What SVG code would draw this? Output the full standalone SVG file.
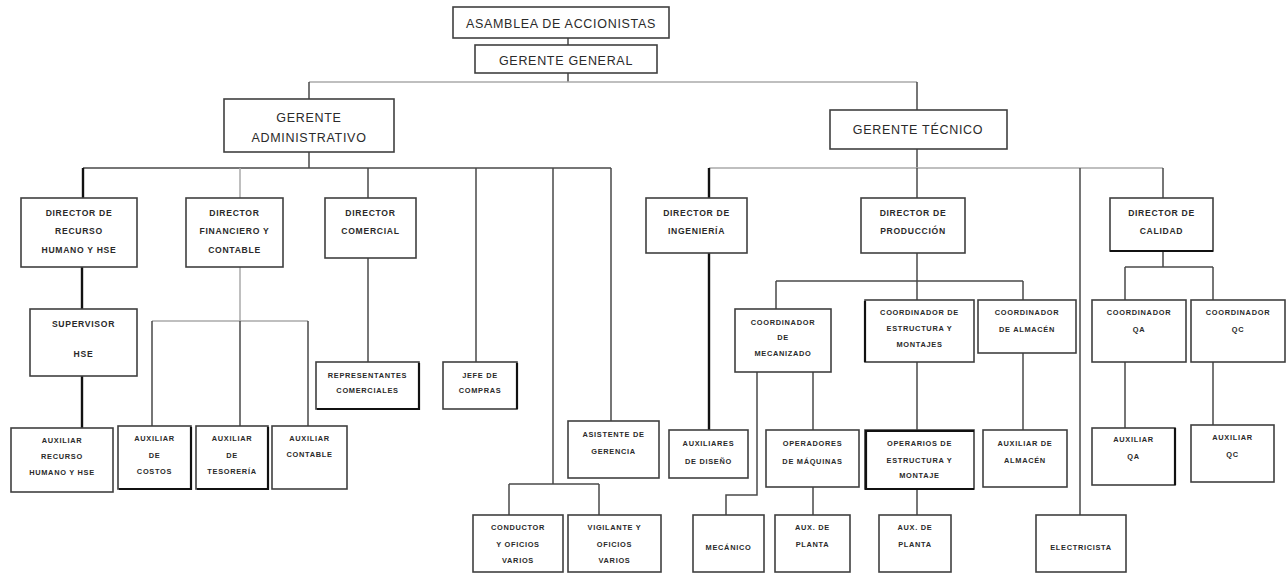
<svg xmlns="http://www.w3.org/2000/svg" width="1287" height="574" viewBox="0 0 1287 574">
<style>
.b{fill:#fff;stroke:#404040;stroke-width:1.6}
.t1{font-family:"Liberation Sans",Arial,sans-serif;font-size:12.5px;fill:#2a2a2a;text-anchor:middle;letter-spacing:0.7px}
.t2{font-family:"Liberation Sans",Arial,sans-serif;font-size:8.6px;font-weight:bold;fill:#2a2a2a;text-anchor:middle;letter-spacing:0.7px}
.t3{font-family:"Liberation Sans",Arial,sans-serif;font-size:7.4px;font-weight:bold;fill:#2a2a2a;text-anchor:middle;letter-spacing:0.7px}
.c{fill:none;stroke:#4a4a4a;stroke-width:1.5}
.k{fill:none;stroke:#111;stroke-width:2.4}
.g{fill:none;stroke:#aaa;stroke-width:1.5}
.e{fill:none;stroke:#111;stroke-width:2.2}
</style>
<g id="connectors">
<path class="c" d="M568 38V45M568 73V82"/>
<path class="g" d="M309 82H917"/>
<path class="c" d="M309 82V99M917 82V110"/>
<path class="c" d="M309 152V168M83 168H611"/>
<path class="k" d="M83 168V198"/>
<path class="g" d="M240 168V198"/>
<path class="c" d="M368 168V198M476 168V362M553 168V484M611 168V421"/>
<path class="k" d="M82 267V309M82 376V428"/>
<path class="g" d="M240 267V321M152 321H308"/>
<path class="c" d="M152 321V426M240 321V426M308 321V426"/>
<path class="c" d="M368 258V362"/>
<path class="c" d="M509 484H599M509 484V515M599 484V515"/>
<path class="c" d="M917 149V168"/>
<path class="g" d="M709 168H1163"/>
<path class="k" d="M709 168V198M709 253V430"/>
<path class="c" d="M917 168V198M1080 168V515M1163 168V198"/>
<path class="c" d="M917 253V281M776 281H1023M776 281V309M917 281V300M1023 281V300"/>
<path class="c" d="M757 372V495H726V515M813 372V430M813 487V515"/>
<path class="c" d="M917 362V430M917 489V515M1023 353V430"/>
<path class="c" d="M1163 251V267M1125 267H1213M1125 267V300M1213 267V300M1125 362V428M1213 362V425"/>
</g>
<g id="asamblea"><rect class="b" x="453" y="7" width="216" height="31"/><text class="t1" x="561" y="27.5" font-size="13">ASAMBLEA DE ACCIONISTAS</text></g>
<g id="gerente-general"><rect class="b" x="475" y="45" width="182" height="28"/><text class="t1" x="566" y="64.5">GERENTE GENERAL</text></g>
<g id="gerente-administrativo"><rect class="b" x="224" y="99" width="170" height="53"/><text class="t1" x="309" y="121.5">GERENTE</text><text class="t1" x="309" y="141.5">ADMINISTRATIVO</text></g>
<g id="gerente-tecnico"><rect class="b" x="830" y="110" width="177" height="39"/><text class="t1" x="918" y="133.5">GERENTE TÉCNICO</text></g>
<g id="dir-rrhh"><rect class="b" x="21" y="198" width="116" height="69"/><text class="t2" x="79" y="216">DIRECTOR DE</text><text class="t2" x="79" y="234">RECURSO</text><text class="t2" x="79" y="253">HUMANO Y HSE</text></g>
<g id="dir-financiero"><rect class="b" x="186" y="198" width="97" height="69"/><text class="t2" x="234.5" y="216">DIRECTOR</text><text class="t2" x="234.5" y="234">FINANCIERO Y</text><text class="t2" x="234.5" y="253">CONTABLE</text></g>
<g id="dir-comercial"><rect class="b" x="325" y="198" width="91" height="60"/><text class="t2" x="370.5" y="215.5">DIRECTOR</text><text class="t2" x="370.5" y="234">COMERCIAL</text></g>
<g id="supervisor-hse"><rect class="b" x="30" y="309" width="107" height="67"/><text class="t2" x="83.5" y="327">SUPERVISOR</text><text class="t2" x="83.5" y="357">HSE</text></g>
<g id="aux-rrhh"><rect class="b" x="11" y="428" width="102" height="64"/><text class="t3" x="62" y="442.5">AUXILIAR</text><text class="t3" x="62" y="458.5">RECURSO</text><text class="t3" x="62" y="474.5">HUMANO Y HSE</text></g>
<g id="aux-costos"><rect class="b" x="118" y="426" width="73" height="63"/><text class="t3" x="154.5" y="440.5">AUXILIAR</text><text class="t3" x="154.5" y="457.5">DE</text><text class="t3" x="154.5" y="473.5">COSTOS</text><path class="e" d="M191 427V489H119"/></g>
<g id="aux-tesoreria"><rect class="b" x="196" y="426" width="72" height="63"/><text class="t3" x="232" y="440.5">AUXILIAR</text><text class="t3" x="232" y="457.5">DE</text><text class="t3" x="232" y="473.5">TESORERÍA</text><path class="e" d="M268 427V489H197"/></g>
<g id="aux-contable"><rect class="b" x="272" y="426" width="75" height="63"/><text class="t3" x="309.5" y="440.5">AUXILIAR</text><text class="t3" x="309.5" y="456.5">CONTABLE</text></g>
<g id="representantes"><rect class="b" x="316" y="362" width="103" height="47"/><text class="t3" x="367.5" y="377.5">REPRESENTANTES</text><text class="t3" x="367.5" y="392.5">COMERCIALES</text><path class="e" d="M419 363V409H317"/></g>
<g id="jefe-compras"><rect class="b" x="443" y="362" width="74" height="47"/><text class="t3" x="480" y="377.5">JEFE DE</text><text class="t3" x="480" y="392.5">COMPRAS</text><path class="e" d="M517 363V409"/></g>
<g id="asistente"><rect class="b" x="568" y="421" width="91" height="57"/><text class="t3" x="613.5" y="436.5">ASISTENTE DE</text><text class="t3" x="613.5" y="453.5">GERENCIA</text></g>
<g id="conductor"><rect class="b" x="473" y="515" width="90" height="57"/><text class="t3" x="518" y="529.5">CONDUCTOR</text><text class="t3" x="518" y="546.5">Y OFICIOS</text><text class="t3" x="518" y="562.5">VARIOS</text></g>
<g id="vigilante"><rect class="b" x="568" y="515" width="93" height="57"/><text class="t3" x="614.5" y="529.5">VIGILANTE Y</text><text class="t3" x="614.5" y="546.5">OFICIOS</text><text class="t3" x="614.5" y="562.5">VARIOS</text></g>
<g id="dir-ingenieria"><rect class="b" x="646" y="198" width="101" height="55"/><text class="t2" x="696.5" y="216">DIRECTOR DE</text><text class="t2" x="696.5" y="234">INGENIERÍA</text></g>
<g id="aux-diseno"><rect class="b" x="669" y="430" width="79" height="48"/><text class="t3" x="708.5" y="445.5">AUXILIARES</text><text class="t3" x="708.5" y="463.5">DE DISEÑO</text></g>
<g id="coord-mecanizado"><rect class="b" x="735" y="309" width="96" height="63"/><text class="t3" x="783" y="324.5">COORDINADOR</text><text class="t3" x="783" y="339.5">DE</text><text class="t3" x="783" y="355.5">MECANIZADO</text></g>
<g id="mecanico"><rect class="b" x="693" y="515" width="71" height="57"/><text class="t3" x="728.5" y="549.5">MECÁNICO</text></g>
<g id="operadores"><rect class="b" x="766" y="430" width="93" height="57"/><text class="t3" x="812.5" y="445.5">OPERADORES</text><text class="t3" x="812.5" y="463.5">DE MÁQUINAS</text></g>
<g id="aux-planta-1"><rect class="b" x="775" y="515" width="75" height="57"/><text class="t3" x="812.5" y="529.5">AUX. DE</text><text class="t3" x="812.5" y="546.5">PLANTA</text></g>
<g id="dir-produccion"><rect class="b" x="861" y="198" width="104" height="55"/><text class="t2" x="913" y="215.5">DIRECTOR DE</text><text class="t2" x="913" y="234">PRODUCCIÓN</text></g>
<g id="coord-estructura"><rect class="b" x="865" y="300" width="109" height="62"/><text class="t3" x="919.5" y="314.5">COORDINADOR DE</text><text class="t3" x="919.5" y="330.5">ESTRUCTURA Y</text><text class="t3" x="919.5" y="346.5">MONTAJES</text><path class="e" d="M865 301V362"/></g>
<g id="coord-almacen"><rect class="b" x="978" y="300" width="98" height="53"/><text class="t3" x="1027" y="314.5">COORDINADOR</text><text class="t3" x="1027" y="331.5">DE ALMACÉN</text></g>
<g id="operarios"><rect class="b" x="865" y="430" width="109" height="59"/><text class="t3" x="919.5" y="445.5">OPERARIOS DE</text><text class="t3" x="919.5" y="462.5">ESTRUCTURA Y</text><text class="t3" x="919.5" y="477.5">MONTAJE</text><path class="e" d="M866 430V489H974M866 431H974"/></g>
<g id="aux-planta-2"><rect class="b" x="879" y="515" width="72" height="57"/><text class="t3" x="915" y="529.5">AUX. DE</text><text class="t3" x="915" y="546.5">PLANTA</text></g>
<g id="aux-almacen"><rect class="b" x="983" y="430" width="84" height="57"/><text class="t3" x="1025" y="445.5">AUXILIAR DE</text><text class="t3" x="1025" y="462.5">ALMACÉN</text></g>
<g id="electricista"><rect class="b" x="1036" y="515" width="90" height="57"/><text class="t3" x="1081" y="549.5">ELECTRICISTA</text></g>
<g id="dir-calidad"><rect class="b" x="1110" y="198" width="103" height="53"/><text class="t2" x="1161.5" y="215.5">DIRECTOR DE</text><text class="t2" x="1161.5" y="234">CALIDAD</text><path class="e" d="M1110 251H1213"/></g>
<g id="coord-qa"><rect class="b" x="1092" y="300" width="94" height="62"/><text class="t3" x="1139" y="314.5">COORDINADOR</text><text class="t3" x="1139" y="331.5">QA</text></g>
<g id="coord-qc"><rect class="b" x="1191" y="300" width="94" height="62"/><text class="t3" x="1238" y="314.5">COORDINADOR</text><text class="t3" x="1238" y="331.5">QC</text></g>
<g id="aux-qa"><rect class="b" x="1092" y="428" width="83" height="57"/><text class="t3" x="1133.5" y="441.5">AUXILIAR</text><text class="t3" x="1133.5" y="458.5">QA</text><path class="e" d="M1175 428V485"/></g>
<g id="aux-qc"><rect class="b" x="1191" y="425" width="83" height="57"/><text class="t3" x="1232.5" y="439.5">AUXILIAR</text><text class="t3" x="1232.5" y="456.5">QC</text></g>
</svg>
